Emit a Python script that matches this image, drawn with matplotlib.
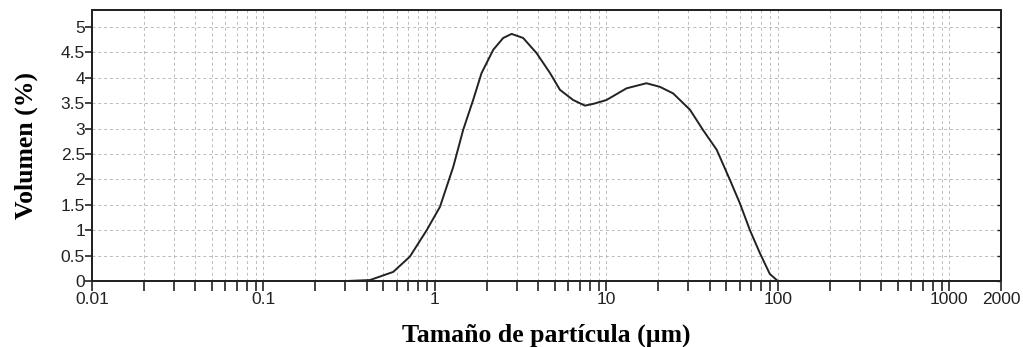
import matplotlib
matplotlib.use('Agg')
import matplotlib.pyplot as plt
from matplotlib.ticker import FixedLocator, FuncFormatter

# tamaño de partícula (um) y volumen (%)
tamano = [0.02, 0.1, 0.3, 0.418, 0.571, 0.714, 0.895, 1.07, 1.28, 1.46, 1.67,
          1.87, 2.19, 2.50, 2.80, 3.27, 3.92, 4.69, 5.36, 6.40, 7.50, 8.50,
          10.0, 13.1, 17.1, 20.5, 24.5, 30.7, 36.6, 44.0, 52.5, 60.0, 68.7,
          78.5, 89.7, 100, 200, 1000, 2000]
volumen = [0.0, 0.0, 0.0, 0.02, 0.18, 0.48, 1.0, 1.46, 2.25, 2.97, 3.56,
           4.09, 4.55, 4.78, 4.86, 4.78, 4.48, 4.09, 3.76, 3.56, 3.45, 3.49,
           3.56, 3.79, 3.89, 3.82, 3.69, 3.37, 2.97, 2.58, 1.99, 1.53, 1.0,
           0.55, 0.14, 0.0, 0.0, 0.0, 0.0]

xticks = [0.01, 0.1, 1, 10, 100, 1000, 2000]
xtick_labels = ['0.01', '0.1', '1', '10', '100', '1000', '2000']
yticks = [0, 0.5, 1, 1.5, 2, 2.5, 3, 3.5, 4, 4.5, 5]

fig = plt.figure(figsize=(10.23, 3.47), dpi=100)
ax = fig.add_axes([0.0899, 0.190, 0.8886, 0.7826])

ax.plot(tamano, volumen, color='#222222', lw=1.4)

ax.set_xscale('log')
ax.set_xlim(0.01, 2000)
ax.set_ylim(0, 5.34)

minors = [m * 10.0 ** d for d in range(-2, 3) for m in range(2, 10)]
ax.xaxis.set_major_locator(FixedLocator(xticks))
ax.set_xticklabels(xtick_labels)
ax.xaxis.set_minor_locator(FixedLocator(minors))
ax.xaxis.set_minor_formatter(FuncFormatter(lambda v, p: ''))

ax.set_yticks(yticks)
ax.yaxis.set_major_formatter(FuncFormatter(lambda v, p: '%g' % v))

ax.tick_params(axis='x', which='both', direction='out', length=7, width=1.2,
               labelsize=12.5, pad=1, colors='#222222')
ax.tick_params(axis='y', which='major', direction='out', length=5, width=1.2,
               labelsize=12.5, pad=0, colors='#222222')
for lab in ax.get_xticklabels() + ax.get_yticklabels():
    lab.set_family('Liberation Sans')

# ticks hacia dentro en el eje derecho
ax2 = ax.twinx()
ax2.set_ylim(ax.get_ylim())
ax2.set_yticks(yticks)
ax2.tick_params(axis='y', direction='in', length=3, width=1.0,
                labelright=False, colors='#222222')

ax.grid(True, which='both', axis='x', color='#bbbbbb', ls=(0, (3, 3)), lw=0.7)
ax.grid(True, which='major', axis='y', color='#bbbbbb', ls=(0, (3, 3)), lw=0.7)

for a in (ax, ax2):
    for s in a.spines.values():
        s.set_linewidth(1.3)
        s.set_color('#222222')

ax.set_xlabel('Tamaño de partícula (µm)', family='Liberation Serif',
              fontweight='bold', fontsize=18.5, labelpad=12)
ax.set_ylabel('Volumen (%)', family='Liberation Serif',
              fontweight='bold', fontsize=18.5, labelpad=16)

fig.savefig('out.png', dpi=100)
